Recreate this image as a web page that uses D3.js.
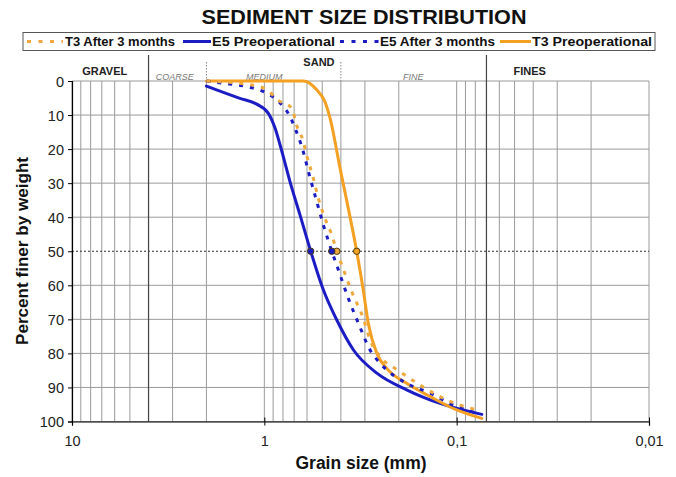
<!DOCTYPE html>
<html>
<head>
<meta charset="utf-8">
<script src="https://cdn.jsdelivr.net/npm/d3@7/dist/d3.min.js"></script>
<style>
  html, body { margin: 0; padding: 0; background: #fff; }
  svg { display: block; font-family: "Liberation Sans", Arial, sans-serif; }
</style>
</head>
<body>
<svg id="chart" width="676" height="477"></svg>
<script>
// ---------- DATA ----------
const chartTitle = "SEDIMENT SIZE DISTRIBUTION";
const xTitle = "Grain size (mm)";
const yTitle = "Percent finer by weight";

const xTickValues = [10, 1, 0.1, 0.01];
const xTickLabels = ["10", "1", "0,1", "0,01"];
const yTickValues = [0, 10, 20, 30, 40, 50, 60, 70, 80, 90, 100];

// class boundaries (mm)
const majorBounds = [4, 0.07];      // gravel/sand, sand/fines
const minorBounds = [2, 0.4];       // coarse/medium, medium/fine
const mainClasses = ["GRAVEL", "SAND", "FINES"];
const mainClassAt = [6.76, 0.52, 0.0417];
const sandClasses = ["COARSE", "MEDIUM", "FINE"];
const sandClassAt = [2.92, 1.0, 0.168];

const seriesNames = ["T3 After 3 months", "E5 Preoperational", "E5 After 3 months", "T3 Preoperational"];
const seriesColors = ["#eea83c", "#1c1cc4", "#1c1cc4", "#f3a023"];
const seriesDashed = [true, false, true, false];

const t3AfterSize = [2.0, 1.15, 0.97, 0.85, 0.72, 0.68, 0.627, 0.603, 0.556, 0.524, 0.484, 0.446, 0.42, 0.396, 0.351, 0.306, 0.282, 0.24, 0.209, 0.155, 0.127, 0.096, 0.078];
const t3AfterPct  = [0, 1.2, 2.6, 5.6, 8, 12.9, 17.8, 21.7, 28.6, 34.4, 40.3, 45.2, 50, 54, 61.9, 69.7, 76, 82, 84.4, 89.3, 92.2, 95.2, 96.6];

const e5PreSize = [2.0, 1.34, 1.096, 0.953, 0.879, 0.828, 0.735, 0.652, 0.574, 0.493, 0.42, 0.344, 0.26, 0.182, 0.122, 0.074];
const e5PrePct  = [1.5, 5.1, 6.8, 9.5, 13.9, 18.8, 29.6, 39.4, 50, 61.4, 70.2, 79, 85.8, 90.7, 94.7, 97.9];

const e5AfterSize = [2.0, 1.63, 1.37, 1.14, 0.97, 0.84, 0.735, 0.692, 0.627, 0.59, 0.534, 0.493, 0.446, 0.412, 0.366, 0.324, 0.282, 0.245, 0.182, 0.137, 0.104, 0.078];
const e5AfterPct  = [0, 0.7, 1.2, 2.1, 3.6, 6.1, 10.5, 13.9, 20.8, 26.6, 35.4, 42.3, 50, 55.5, 63.8, 71.2, 79, 83.4, 88.8, 91.7, 95.2, 97.6];

const t3PreSize = [2.0, 0.627, 0.534, 0.484, 0.455, 0.404, 0.366, 0.331, 0.306, 0.288, 0.26, 0.231, 0.182, 0.137, 0.1, 0.074];
const t3PrePct  = [0, 0, 2.6, 6.1, 11, 25.6, 37.4, 50, 61.4, 71.2, 80, 84.4, 88.8, 92.7, 96.6, 99.1];

const d50Size = [0.42, 0.574, 0.446, 0.331];
const d50Pct = 50;

// ---------- LAYOUT ----------
const svg = d3.select("#chart");
const L = 72, R = 649, T = 81, B = 421.5;
const x = d3.scaleLog().domain([10, 0.01]).range([L, R]);
const y = d3.scaleLinear().domain([0, 100]).range([T, B]);

const sizes = [t3AfterSize, e5PreSize, e5AfterSize, t3PreSize];
const pcts = [t3AfterPct, e5PrePct, e5AfterPct, t3PrePct];

// title
svg.append("text").attr("x", 364).attr("y", 24).attr("text-anchor", "middle")
  .attr("font-size", 21).attr("font-weight", "bold").attr("fill", "#111")
  .attr("textLength", 325).attr("lengthAdjust", "spacingAndGlyphs")
  .text(chartTitle);

// legend
const lg = svg.append("g");
lg.append("rect").attr("x", 23).attr("y", 32.5).attr("width", 632).attr("height", 18)
  .attr("fill", "#fff").attr("stroke", "#555").attr("stroke-width", 1);
const legSample = [[27, 63], [183, 211], [340, 379], [500, 531]];
const legText = [[65, 110], [212, 123], [380, 115], [532, 120]];
seriesNames.forEach((n, i) => {
  lg.append("line").attr("x1", legSample[i][0]).attr("x2", legSample[i][1])
    .attr("y1", 41.5).attr("y2", 41.5)
    .attr("stroke", seriesColors[i]).attr("stroke-width", 3)
    .attr("stroke-dasharray", seriesDashed[i] ? "4,7.5" : null);
  lg.append("text").attr("x", legText[i][0]).attr("y", 46)
    .attr("font-size", 13.5).attr("font-weight", "bold").attr("fill", "#111")
    .attr("textLength", legText[i][1]).attr("lengthAdjust", "spacingAndGlyphs")
    .text(n);
});

// grid
const grid = svg.append("g");
grid.selectAll("line.v").data(x.ticks()).join("line")
  .attr("x1", d => x(d)).attr("x2", d => x(d)).attr("y1", T).attr("y2", B)
  .attr("stroke", "#9a9a9a").attr("stroke-width", 1);
grid.selectAll("line.h").data(yTickValues.filter(v => v !== 50)).join("line")
  .attr("x1", L).attr("x2", R).attr("y1", d => y(d)).attr("y2", d => y(d))
  .attr("stroke", "#9a9a9a").attr("stroke-width", 1);
grid.append("line").attr("x1", L).attr("x2", R).attr("y1", y(50)).attr("y2", y(50))
  .attr("stroke", "#333").attr("stroke-width", 1).attr("stroke-dasharray", "2,2");

// class boundaries
grid.selectAll("line.maj").data(majorBounds).join("line")
  .attr("x1", d => x(d)).attr("x2", d => x(d)).attr("y1", 55).attr("y2", B)
  .attr("stroke", "#444").attr("stroke-width", 1.2);
grid.selectAll("line.min").data(minorBounds).join("line")
  .attr("x1", d => x(d)).attr("x2", d => x(d)).attr("y1", 62).attr("y2", T)
  .attr("stroke", "#888").attr("stroke-width", 1).attr("stroke-dasharray", "1.5,1.5");

// class labels
svg.selectAll("text.mc").data(mainClasses).join("text")
  .attr("x", (d, i) => x(mainClassAt[i])).attr("y", (d, i) => i === 1 ? 66 : 75)
  .attr("text-anchor", "middle").attr("font-size", 11).attr("font-weight", "bold").attr("fill", "#222")
  .text(d => d);
svg.selectAll("text.sc").data(sandClasses).join("text")
  .attr("x", (d, i) => x(sandClassAt[i])).attr("y", 80)
  .attr("text-anchor", "middle").attr("font-size", 9).attr("font-style", "italic").attr("fill", "#777")
  .text(d => d);

// axes
const yAxis = d3.axisLeft(y).tickValues(yTickValues).tickSize(4).tickPadding(4);
const gy = svg.append("g").attr("transform", `translate(${L},0)`).call(yAxis);
gy.select(".domain").attr("stroke", "#000").attr("stroke-width", 1.2);
gy.selectAll(".tick line").attr("stroke", "#000");
gy.selectAll(".tick text").attr("font-size", 14.5).attr("fill", "#222")
  .attr("font-family", "Liberation Sans, Arial, sans-serif").attr("dy", "0.36em");

const xAxis = d3.axisBottom(x).tickValues(xTickValues).tickFormat((d, i) => xTickLabels[i])
  .tickSize(4).tickPadding(10);
const gx = svg.append("g").attr("transform", `translate(0,${B})`).call(xAxis);
gx.select(".domain").attr("stroke", "#000").attr("stroke-width", 1.2);
gx.selectAll(".tick line").attr("stroke", "#000").attr("y1", -4);
gx.selectAll(".tick text").attr("font-size", 14.5).attr("fill", "#222")
  .attr("font-family", "Liberation Sans, Arial, sans-serif");

// axis titles
svg.append("text").attr("x", 361).attr("y", 469).attr("text-anchor", "middle")
  .attr("font-size", 17.5).attr("font-weight", "bold").attr("fill", "#111")
  .attr("textLength", 131).attr("lengthAdjust", "spacingAndGlyphs").text(xTitle);
svg.append("text").attr("transform", "translate(28,251) rotate(-90)").attr("text-anchor", "middle")
  .attr("font-size", 17).attr("font-weight", "bold").attr("fill", "#111")
  .attr("textLength", 188).attr("lengthAdjust", "spacingAndGlyphs").text(yTitle);

// curves
const line = d3.line().x(d => x(d[0])).y(d => y(d[1])).curve(d3.curveMonotoneX);
const drawOrder = [1, 3, 2, 0];
drawOrder.forEach(i => {
  const pts = sizes[i].map((s, k) => [s, pcts[i][k]]);
  svg.append("path").datum(pts).attr("d", line)
    .attr("fill", "none").attr("stroke", seriesColors[i]).attr("stroke-width", 3)
    .attr("stroke-linecap", seriesDashed[i] ? "butt" : "round")
    .attr("stroke-dasharray", seriesDashed[i] ? "4,7" : null);
});

// d50 markers
svg.selectAll("circle.d50").data(d50Size).join("circle")
  .attr("cx", d => x(d)).attr("cy", y(d50Pct)).attr("r", 3.2)
  .attr("fill", (d, i) => seriesColors[i]).attr("stroke", "#4a3c10").attr("stroke-width", 1);
</script>
</body>
</html>
